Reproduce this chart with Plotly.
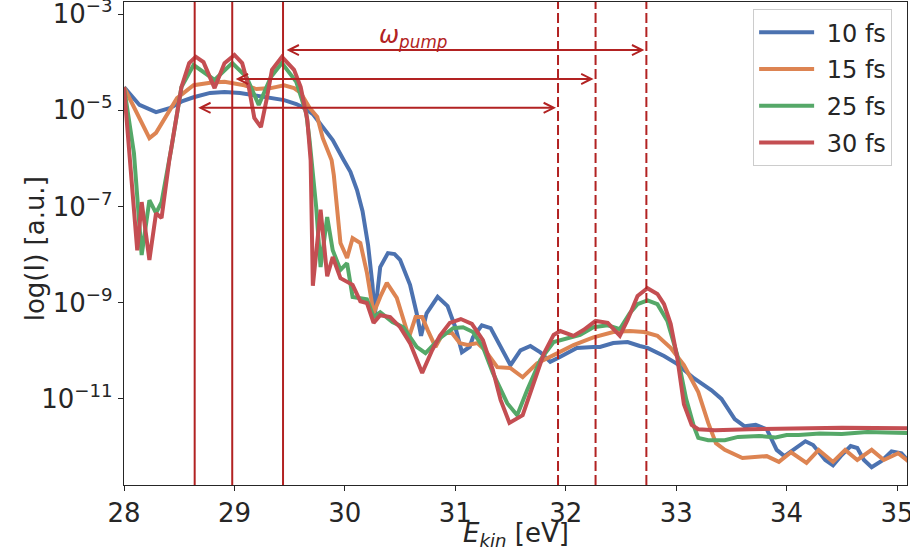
import plotly.graph_objects as go

# ---------------- data (kinetic energy in eV, log10 intensity) ----------------
E_10 = [28.00, 28.14, 28.29, 28.42, 28.53, 28.63, 28.78, 28.91, 29.05, 29.20, 29.33, 29.45, 29.56, 29.63,
        29.71, 29.81, 29.89, 29.99, 30.05, 30.11, 30.16, 30.21, 30.25, 30.27, 30.32, 30.39, 30.45, 30.50,
        30.59, 30.65, 30.69, 30.74, 30.84, 30.93, 31.00, 31.06, 31.13, 31.16, 31.24, 31.32, 31.39, 31.50,
        31.59, 31.68, 31.77, 31.86, 31.93, 32.01, 32.10, 32.25, 32.31, 32.43, 32.56, 32.67, 32.74, 32.89,
        33.00, 33.16, 33.32, 33.41, 33.53, 33.62, 33.72, 33.82, 33.91, 33.98, 34.06, 34.17, 34.24, 34.35,
        34.42, 34.49, 34.58, 34.64, 34.70, 34.77, 34.86, 34.95, 35.04, 35.11]
logI_10 = [-4.52, -4.89, -5.04, -4.95, -4.81, -4.73, -4.64, -4.62, -4.64, -4.70, -4.75, -4.79, -4.87, -4.95,
           -5.08, -5.37, -5.62, -6.04, -6.28, -6.66, -7.10, -7.80, -8.63, -9.28, -8.26, -7.97, -7.99, -8.11,
           -8.63, -9.22, -9.69, -9.22, -8.88, -9.07, -9.51, -10.03, -9.92, -9.72, -9.47, -9.53, -9.84, -10.30,
           -9.99, -9.90, -10.03, -10.23, -10.15, -10.05, -9.94, -9.92, -9.92, -9.84, -9.82, -9.90, -9.94, -10.11,
           -10.26, -10.57, -10.82, -11.00, -11.42, -11.57, -11.54, -11.63, -12.06, -12.19, -12.06, -11.88, -11.96, -12.27,
           -12.38, -12.19, -11.98, -12.02, -12.27, -12.42, -12.29, -12.09, -12.13, -12.31]

E_15 = [28.00, 28.11, 28.23, 28.29, 28.38, 28.48, 28.63, 28.78, 28.91, 29.09, 29.20, 29.33, 29.45, 29.54,
        29.60, 29.68, 29.75, 29.80, 29.88, 29.90, 29.96, 30.02, 30.07, 30.14, 30.20, 30.26, 30.32, 30.38,
        30.47, 30.58, 30.64, 30.70, 30.75, 30.82, 30.89, 30.97, 31.04, 31.11, 31.20, 31.27, 31.38, 31.50,
        31.61, 31.74, 31.89, 32.07, 32.25, 32.43, 32.58, 32.71, 32.83, 32.95, 33.07, 33.20, 33.29, 33.36,
        33.44, 33.60, 33.82, 33.93, 34.04, 34.18, 34.29, 34.42, 34.53, 34.64, 34.77, 34.88, 35.01, 35.11]
logI_15 = [-4.52, -5.04, -5.58, -5.47, -5.12, -4.75, -4.48, -4.43, -4.41, -4.48, -4.56, -4.54, -4.48, -4.54,
           -4.64, -4.95, -5.14, -5.58, -6.04, -6.35, -7.76, -8.07, -7.66, -7.76, -8.38, -9.22, -8.88, -8.59,
           -8.90, -9.72, -9.30, -9.30, -9.57, -9.92, -9.63, -9.63, -9.84, -9.88, -9.84, -9.99, -10.34, -10.36,
           -10.55, -10.26, -10.09, -9.88, -9.72, -9.61, -9.59, -9.61, -9.69, -9.94, -10.30, -10.86, -11.50, -11.92,
           -12.06, -12.23, -12.19, -12.31, -12.11, -12.33, -12.06, -12.31, -12.06, -12.27, -12.06, -12.27, -12.13, -12.31]

E_25 = [28.00, 28.09, 28.16, 28.23, 28.29, 28.34, 28.43, 28.52, 28.63, 28.82, 28.98, 29.11, 29.22, 29.33,
        29.43, 29.56, 29.65, 29.68, 29.74, 29.78, 29.84, 29.89, 29.96, 30.02, 30.07, 30.20, 30.26, 30.32,
        30.43, 30.53, 30.65, 30.73, 30.86, 30.98, 31.07, 31.16, 31.25, 31.34, 31.47, 31.56, 31.65, 31.77,
        31.89, 32.01, 32.13, 32.25, 32.38, 32.49, 32.58, 32.65, 32.74, 32.83, 32.92, 33.01, 33.09, 33.16,
        33.20, 33.29, 33.44, 33.56, 33.75, 33.90, 34.00, 34.11, 34.30, 34.50, 34.73, 34.90, 35.11]
logI_25 = [-4.52, -5.89, -8.01, -6.87, -7.14, -6.91, -5.77, -4.52, -4.06, -4.37, -4.02, -4.31, -4.89, -4.31,
           -4.02, -4.41, -5.06, -5.62, -7.01, -8.26, -7.22, -7.91, -8.32, -8.18, -8.88, -8.93, -9.30, -9.20,
           -9.40, -9.51, -9.92, -10.05, -9.74, -9.53, -9.51, -9.61, -9.92, -10.46, -11.09, -11.34, -10.82, -10.19,
           -9.82, -9.74, -9.67, -9.51, -9.47, -9.55, -9.22, -9.03, -8.95, -9.03, -9.38, -10.09, -11.00, -11.57,
           -11.81, -11.86, -11.86, -11.79, -11.77, -11.80, -11.75, -11.75, -11.72, -11.73, -11.69, -11.70, -11.71]

E_30 = [28.00, 28.06, 28.12, 28.16, 28.23, 28.29, 28.34, 28.41, 28.52, 28.59, 28.65, 28.72, 28.82, 28.91,
        29.00, 29.07, 29.13, 29.18, 29.24, 29.29, 29.34, 29.43, 29.54, 29.60, 29.66, 29.69, 29.71, 29.78,
        29.84, 29.89, 29.96, 30.07, 30.14, 30.20, 30.26, 30.32, 30.41, 30.50, 30.59, 30.70, 30.79, 30.86,
        30.95, 31.05, 31.15, 31.25, 31.34, 31.41, 31.49, 31.61, 31.70, 31.80, 31.89, 31.95, 32.07, 32.16,
        32.27, 32.38, 32.49, 32.56, 32.65, 32.74, 32.83, 32.89, 32.95, 33.01, 33.07, 33.14, 33.20, 33.35,
        33.66, 34.12, 34.50, 35.11]
logI_30 = [-4.52, -6.31, -7.91, -6.91, -8.11, -7.14, -7.24, -6.04, -4.52, -4.02, -3.89, -4.00, -4.54, -4.02,
           -3.85, -4.02, -4.52, -5.16, -5.35, -4.79, -4.16, -3.89, -4.16, -4.52, -5.20, -6.04, -8.65, -7.07,
           -8.45, -8.05, -8.49, -8.63, -8.97, -9.01, -9.42, -9.26, -9.30, -9.51, -9.84, -10.46, -9.99, -9.69,
           -9.42, -9.34, -9.44, -9.78, -10.40, -11.02, -11.50, -11.34, -10.71, -10.07, -9.67, -9.59, -9.69, -9.57,
           -9.38, -9.42, -9.69, -9.36, -8.86, -8.70, -8.82, -9.03, -9.44, -10.15, -11.11, -11.54, -11.63, -11.65,
           -11.63, -11.61, -11.60, -11.61]

labels = ["10 fs", "15 fs", "25 fs", "30 fs"]
colors = ["#4C72B0", "#DD8452", "#55A868", "#C44E52"]

# resonance positions (eV): main peaks and their pump-shifted replicas
peaks_main = [28.64, 28.98, 29.44]
peaks_shifted = [31.93, 32.27, 32.73]
arrow_logI = [-4.95, -4.35, -3.75]

y_tick_exp = [-3, -5, -7, -9, -11]
x_ticks = [28, 29, 30, 31, 32, 33, 34, 35]

FONT = "DejaVu Sans"
DARK = "#B22222"
AX = "#262626"
GAP = "\u00a0"

fig = go.Figure()
for E, L, name, c in zip([E_10, E_15, E_25, E_30], [logI_10, logI_15, logI_25, logI_30], labels, colors):
    fig.add_trace(go.Scatter(x=E, y=[10 ** v for v in L], mode="lines", name=GAP + name,
                             legendgroup=name, line=dict(color=c, width=4)))

shapes = []
for xv in peaks_main:
    shapes.append(dict(type="line", xref="x", yref="paper", x0=xv, x1=xv, y0=0, y1=1,
                       line=dict(color=DARK, width=2)))
for xv in peaks_shifted:
    shapes.append(dict(type="line", xref="x", yref="paper", x0=xv, x1=xv, y0=0, y1=1,
                       line=dict(color=DARK, width=2, dash="10px,4px")))

annotations = []
for x0, x1, ly in zip(peaks_main, peaks_shifted, arrow_logI):
    annotations.append(dict(x=x1, y=ly, ax=x0, ay=ly, xref="x", yref="y", axref="x", ayref="y",
                            text="", showarrow=True, arrowside="end+start", arrowhead=5,
                            startarrowhead=5, arrowsize=1, startarrowsize=1, arrowwidth=2,
                            arrowcolor=DARK, standoff=2, startstandoff=2))
annotations.append(dict(x=30.62, y=-3.46, xref="x", yref="y", text="<i>ω<sub>pump</sub></i>",
                        showarrow=False, font=dict(family=FONT, size=24, color=DARK)))
annotations.append(dict(x=-0.1137, y=0.49, xref="paper", yref="paper", text="log(I) [a.u.]",
                        textangle=-90, showarrow=False, xanchor="center", yanchor="middle",
                        font=dict(family=FONT, size=26, color=AX)))
annotations.append(dict(x=0.5, y=-0.0, xref="paper", yref="paper", yshift=-68,
                        text="<i>E</i><sub><i>kin</i></sub> [eV]", showarrow=False,
                        xanchor="center", yanchor="bottom",
                        font=dict(family=FONT, size=26, color=AX)))

fig.update_layout(
    width=910, height=553,
    margin=dict(l=124, r=3, t=2, b=68, autoexpand=False),
    paper_bgcolor="white", plot_bgcolor="white",
    font=dict(family=FONT, size=26, color=AX),
    shapes=shapes, annotations=annotations,
    legend=dict(x=0.981, y=0.985, xanchor="right", yanchor="top",
                bordercolor="#CCCCCC", borderwidth=1, bgcolor="rgba(255,255,255,0.8)",
                font=dict(family=FONT, size=24, color=AX), itemwidth=55,
                tracegroupgap=2.5),
    showlegend=True,
)
fig.update_xaxes(range=[28, 35.09], tickvals=x_ticks, ticktext=[str(t) for t in x_ticks],
                 automargin=False, ticklabeloverflow="allow",
                 tickfont=dict(family=FONT, size=26, color=AX),
                 showline=True, linecolor=AX, linewidth=1.25, mirror=True,
                 ticks="outside", ticklen=5, tickwidth=1.25, tickcolor=AX, showgrid=False, zeroline=False)
fig.update_yaxes(type="log", range=[-12.79, -2.75],
                 tickvals=[10.0 ** e for e in y_tick_exp],
                 ticktext=["10<sup>\u2212%d</sup>" % (-e) for e in y_tick_exp],
                 automargin=False, ticklabeloverflow="allow",
                 tickfont=dict(family=FONT, size=26, color=AX),
                 showline=True, linecolor=AX, linewidth=1.25, mirror=True,
                 ticks="outside", ticklen=5, tickwidth=1.25, tickcolor=AX, showgrid=False, zeroline=False)

fig.write_html("out.html")
